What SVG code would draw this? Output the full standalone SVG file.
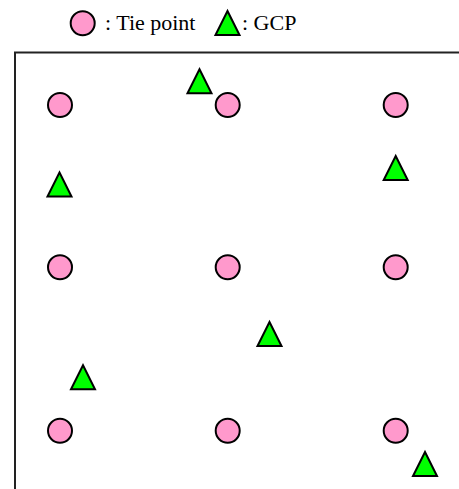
<svg xmlns="http://www.w3.org/2000/svg" width="459" height="489" viewBox="0 0 459 489">
<style>
.tie{fill:#ff99cc;stroke:#000;stroke-width:2}
.gcp{fill:#00ff00;stroke:#000;stroke-width:2;stroke-linejoin:miter}
.lbl{font-family:"Liberation Serif",serif;font-size:22px;fill:#000}
</style>
<defs>
<circle id="c" r="12" class="tie"/>
<path id="t" d="M0,-12 L12,12 L-12,12 Z" class="gcp"/>
</defs>
<g id="legend">
<use href="#c" x="82.7" y="23.3"/>
<text class="lbl" x="105" y="30">: Tie point</text>
<use href="#t" x="227.5" y="23"/>
<text class="lbl" x="242" y="30">: GCP</text>
</g>
<g id="frame">
<path d="M15,489 V52.5 H459" fill="none" stroke="#222" stroke-width="2"/>
</g>
<g id="tiepoints">
<use href="#c" x="60" y="105"/>
<use href="#c" x="227.7" y="105"/>
<use href="#c" x="395.7" y="105"/>
<use href="#c" x="60" y="267.3"/>
<use href="#c" x="227.7" y="267.3"/>
<use href="#c" x="395.7" y="267.3"/>
<use href="#c" x="60" y="430.7"/>
<use href="#c" x="227.7" y="430.7"/>
<use href="#c" x="395.7" y="430.7"/>
</g>
<g id="gcps">
<use href="#t" x="199.5" y="81.3"/>
<use href="#t" x="59.5" y="184.5"/>
<use href="#t" x="395.7" y="168"/>
<use href="#t" x="269.5" y="334"/>
<use href="#t" x="83" y="377.3"/>
<use href="#t" x="425" y="464"/>
</g>
</svg>
